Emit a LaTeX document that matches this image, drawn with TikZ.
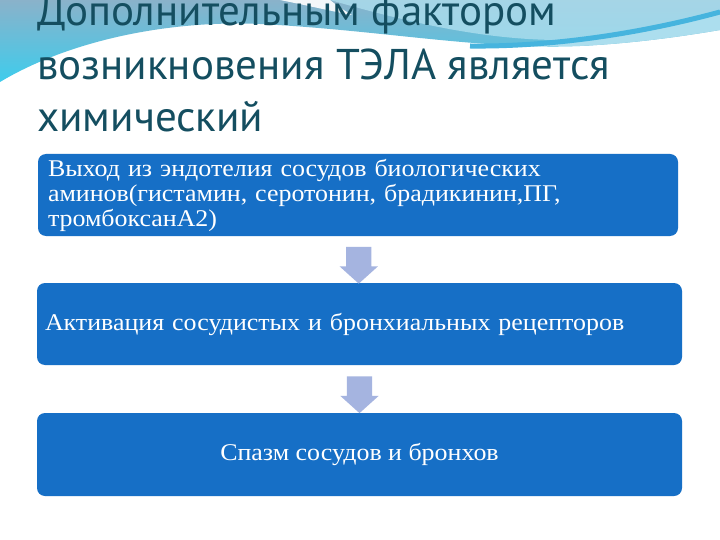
\documentclass[tikz,border=0pt]{standalone}
\usepackage{fontspec}
\usepackage{tikz}
\usetikzlibrary{shapes.arrows,calc}

\setmainfont{Liberation Serif}
\newfontfamily\titlefont{PT Sans}
\newfontfamily\boxfont[FakeStretch=1.08]{Liberation Serif}

\definecolor{titleteal}{RGB}{20,78,96}
\definecolor{boxblue}{RGB}{22,111,198}
\definecolor{arrowblue}{RGB}{165,180,224}
\definecolor{wavecyan}{RGB}{62,204,236}
\definecolor{wavegray}{RGB}{138,178,202}
\definecolor{wavelight}{RGB}{172,222,238}
\definecolor{wavestroke}{RGB}{70,180,222}

\begin{document}
\begin{tikzpicture}[x=1pt,y=-1pt,
		box/.style={fill=boxblue,rounded corners=8pt,text=white,inner sep=0pt,
			minimum height=82pt,font=\boxfont\fontsize{24}{25}\selectfont},
		downarrow/.style={single arrow,shape border rotate=270,fill=arrowblue,inner sep=12.5pt,
			minimum height=33pt,single arrow head extend=6.5pt,
			single arrow tip angle=96},
		titleline/.style={anchor=base west,inner sep=0pt,text=titleteal,
			font=\titlefont\fontsize{43}{50}\selectfont}]
				\useasboundingbox (0,0) rectangle (720,540);
				\clip (0,0) rectangle (720,540);
				\fill[white] (0,0) rectangle (720,540);
				% Welle oben
				\shade[top color=wavegray,bottom color=wavecyan]
				(0,0) -- (0,82) .. controls (70,40) and (170,20) .. (260,24)
				.. controls (380,30) and (480,50) .. (580,46)
				.. controls (640,43) and (690,35) .. (720,30) -- (720,0) -- cycle;
				\fill[wavelight,opacity=0.8]
				(330,0) .. controls (400,20) and (480,40) .. (560,40)
				.. controls (630,38) and (690,20) .. (720,10) -- (720,0) -- cycle;
				\fill[white,opacity=0.9]
				(280,0) .. controls (310,6) and (335,12) .. (352,15)
				.. controls (340,8) and (335,4) .. (330,0) -- cycle;
				\fill[wavelight]
				(470,46) .. controls (560,47) and (650,31) .. (720,12)
				-- (720,30) .. controls (690,35) and (640,43) .. (580,46) -- cycle;
				\draw[wavestroke,line width=5pt]
				(470,46) .. controls (560,47) and (650,31) .. (720,12);
				% Titel
				\node[titleline] (title1) at (37,26) {Дополнительным фактором};
				\node[titleline] (title2) at (37,80) {возникновения ТЭЛА является};
				\node[titleline] (title3) at (37,132) {химический};
				% Kaskade
				\node[box,minimum width=640pt,text width=620pt,align=left] (amine) at (358,195)
				{Выход из эндотелия сосудов биологических\\
					аминов(гистамин, серотонин, брадикинин,ПГ,\\
					тромбоксанА2)};
				\node[box,minimum width=645pt,text width=629pt,align=left] (rezeptor) at (359.5,324)
				{Активация сосудистых и бронхиальных рецепторов};
				\node[box,minimum width=645pt,minimum height=83pt,align=center] (spasmus) at (359.5,454.5)
				{Спазм сосудов и бронхов};
				\node[downarrow] (pfeil1) at ($(amine.south)!0.5!(rezeptor.north)$) {};
				\node[downarrow] (pfeil2) at ($(rezeptor.south)!0.5!(spasmus.north)$) {};
			\end{tikzpicture}
\end{document}
